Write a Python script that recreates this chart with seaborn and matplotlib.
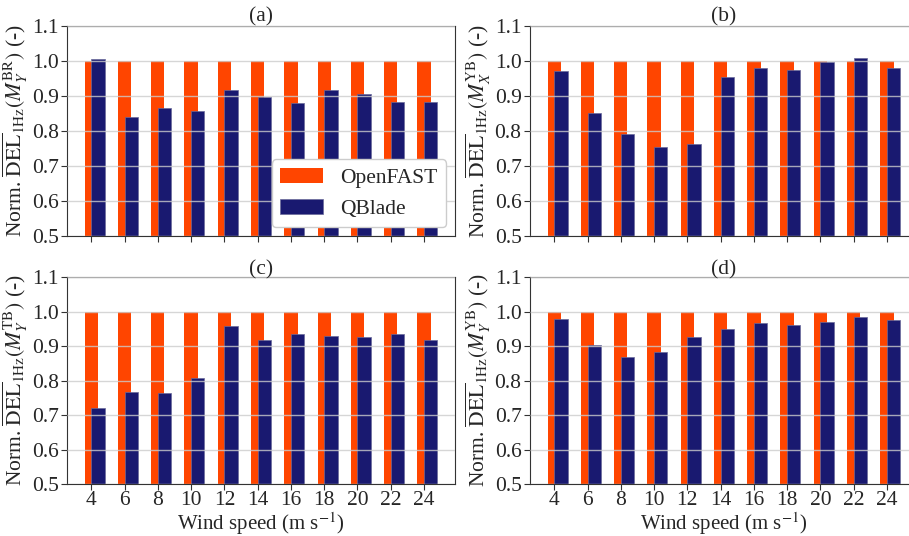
import numpy as np
import pandas as pd
import matplotlib
matplotlib.use("Agg")
import matplotlib.pyplot as plt
import seaborn as sns

# wind speeds (m/s)
wind_speeds = [4, 6, 8, 10, 12, 14, 16, 18, 20, 22, 24]

# OpenFAST is the reference -> normalised to 1
openfast = [1.0] * 11

# QBlade normalised DELs
qblade_a = [1.005, 0.841, 0.866, 0.856, 0.917, 0.897, 0.879, 0.917, 0.907, 0.884, 0.882]
qblade_b = [0.970, 0.850, 0.790, 0.753, 0.763, 0.954, 0.980, 0.975, 0.998, 1.009, 0.979]
qblade_c = [0.719, 0.767, 0.763, 0.807, 0.958, 0.918, 0.934, 0.930, 0.925, 0.935, 0.916]
qblade_d = [0.978, 0.903, 0.869, 0.884, 0.926, 0.948, 0.966, 0.962, 0.970, 0.983, 0.976]

panel_titles = ["(a)", "(b)", "(c)", "(d)"]
load_labels = [r"M_Y^{\mathrm{BR}}", r"M_X^{\mathrm{YB}}", r"M_Y^{\mathrm{TB}}", r"M_Y^{\mathrm{YB}}"]
y_ticks = [0.5, 0.6, 0.7, 0.8, 0.9, 1.0, 1.1]

OF_COLOR = "#FF4500"
QB_COLOR = "#191970"
FS = 15.5

sns.set_style("white")
plt.rcParams["font.family"] = ["Liberation Serif", "DejaVu Serif"]
plt.rcParams["mathtext.fontset"] = "stix"
plt.rcParams["font.size"] = FS

fig = plt.figure(figsize=(9.09, 5.36), dpi=100)
# axes placed by hand (right column runs slightly off the canvas as in the original)
positions = [
    [0.0737, 0.5597, 0.4268, 0.3918],
    [0.5830, 0.5597, 0.4268, 0.3918],
    [0.0737, 0.0970, 0.4268, 0.3862],
    [0.5830, 0.0970, 0.4268, 0.3862],
]
all_qblade = [qblade_a, qblade_b, qblade_c, qblade_d]

for i, (pos, qb) in enumerate(zip(positions, all_qblade)):
    ax = fig.add_axes(pos)
    df_of = pd.DataFrame({"ws": wind_speeds, "val": openfast})
    # QBlade bars shifted by half a bar so they overlap the OpenFAST ones
    df_qb = pd.DataFrame({"ws": np.array(wind_speeds) + 0.4, "val": qb})

    sns.barplot(data=df_of, x="ws", y="val", native_scale=True, width=0.4,
                color=OF_COLOR, saturation=1, errorbar=None, ax=ax,
                label="OpenFAST", linewidth=0)
    sns.barplot(data=df_qb, x="ws", y="val", native_scale=True, width=0.4,
                color=QB_COLOR, saturation=1, errorbar=None, ax=ax,
                label="QBlade", edgecolor="#6a6a9a", linewidth=0.5)

    ax.set_xlim(2.54, 25.86)
    ax.set_ylim(0.5, 1.1)
    ax.set_yticks(y_ticks)
    ax.set_yticklabels([f"{t:.1f}" for t in y_ticks])
    ax.set_xticks(wind_speeds)
    if i >= 2:
        ax.set_xticklabels([str(w) for w in wind_speeds])
        ax.set_xlabel(r"Wind speed (m s$^{-1}$)", labelpad=0, fontsize=15)
    else:
        ax.set_xticklabels([])
        ax.set_xlabel("")
    ax.set_ylabel(r"Norm. $\overline{\mathrm{DEL}}_{\mathrm{1Hz}}(" + load_labels[i] + r")$ (-)",
                  labelpad=1)
    ax.set_title(panel_titles[i], fontsize=FS, pad=2)

    ax.set_axisbelow(False)
    ax.yaxis.grid(True, color="#cccccc", linewidth=1.0, alpha=0.8)
    ax.xaxis.grid(False)
    ax.tick_params(axis="both", direction="out", length=4, width=0.8, color="#333333",
                   labelsize=FS, pad=2, bottom=True, left=True)
    ax.tick_params(axis="x", pad=1)
    for sp in ax.spines.values():
        sp.set_visible(True)
        sp.set_color("#333333")
        sp.set_linewidth(0.8)

    if i == 0:
        ax.legend(loc="lower right", fontsize=FS, framealpha=1, fancybox=True,
                  edgecolor="#cccccc", borderaxespad=0.4)
    else:
        leg = ax.get_legend()
        if leg is not None:
            leg.remove()

fig.savefig("out.png", dpi=100)
